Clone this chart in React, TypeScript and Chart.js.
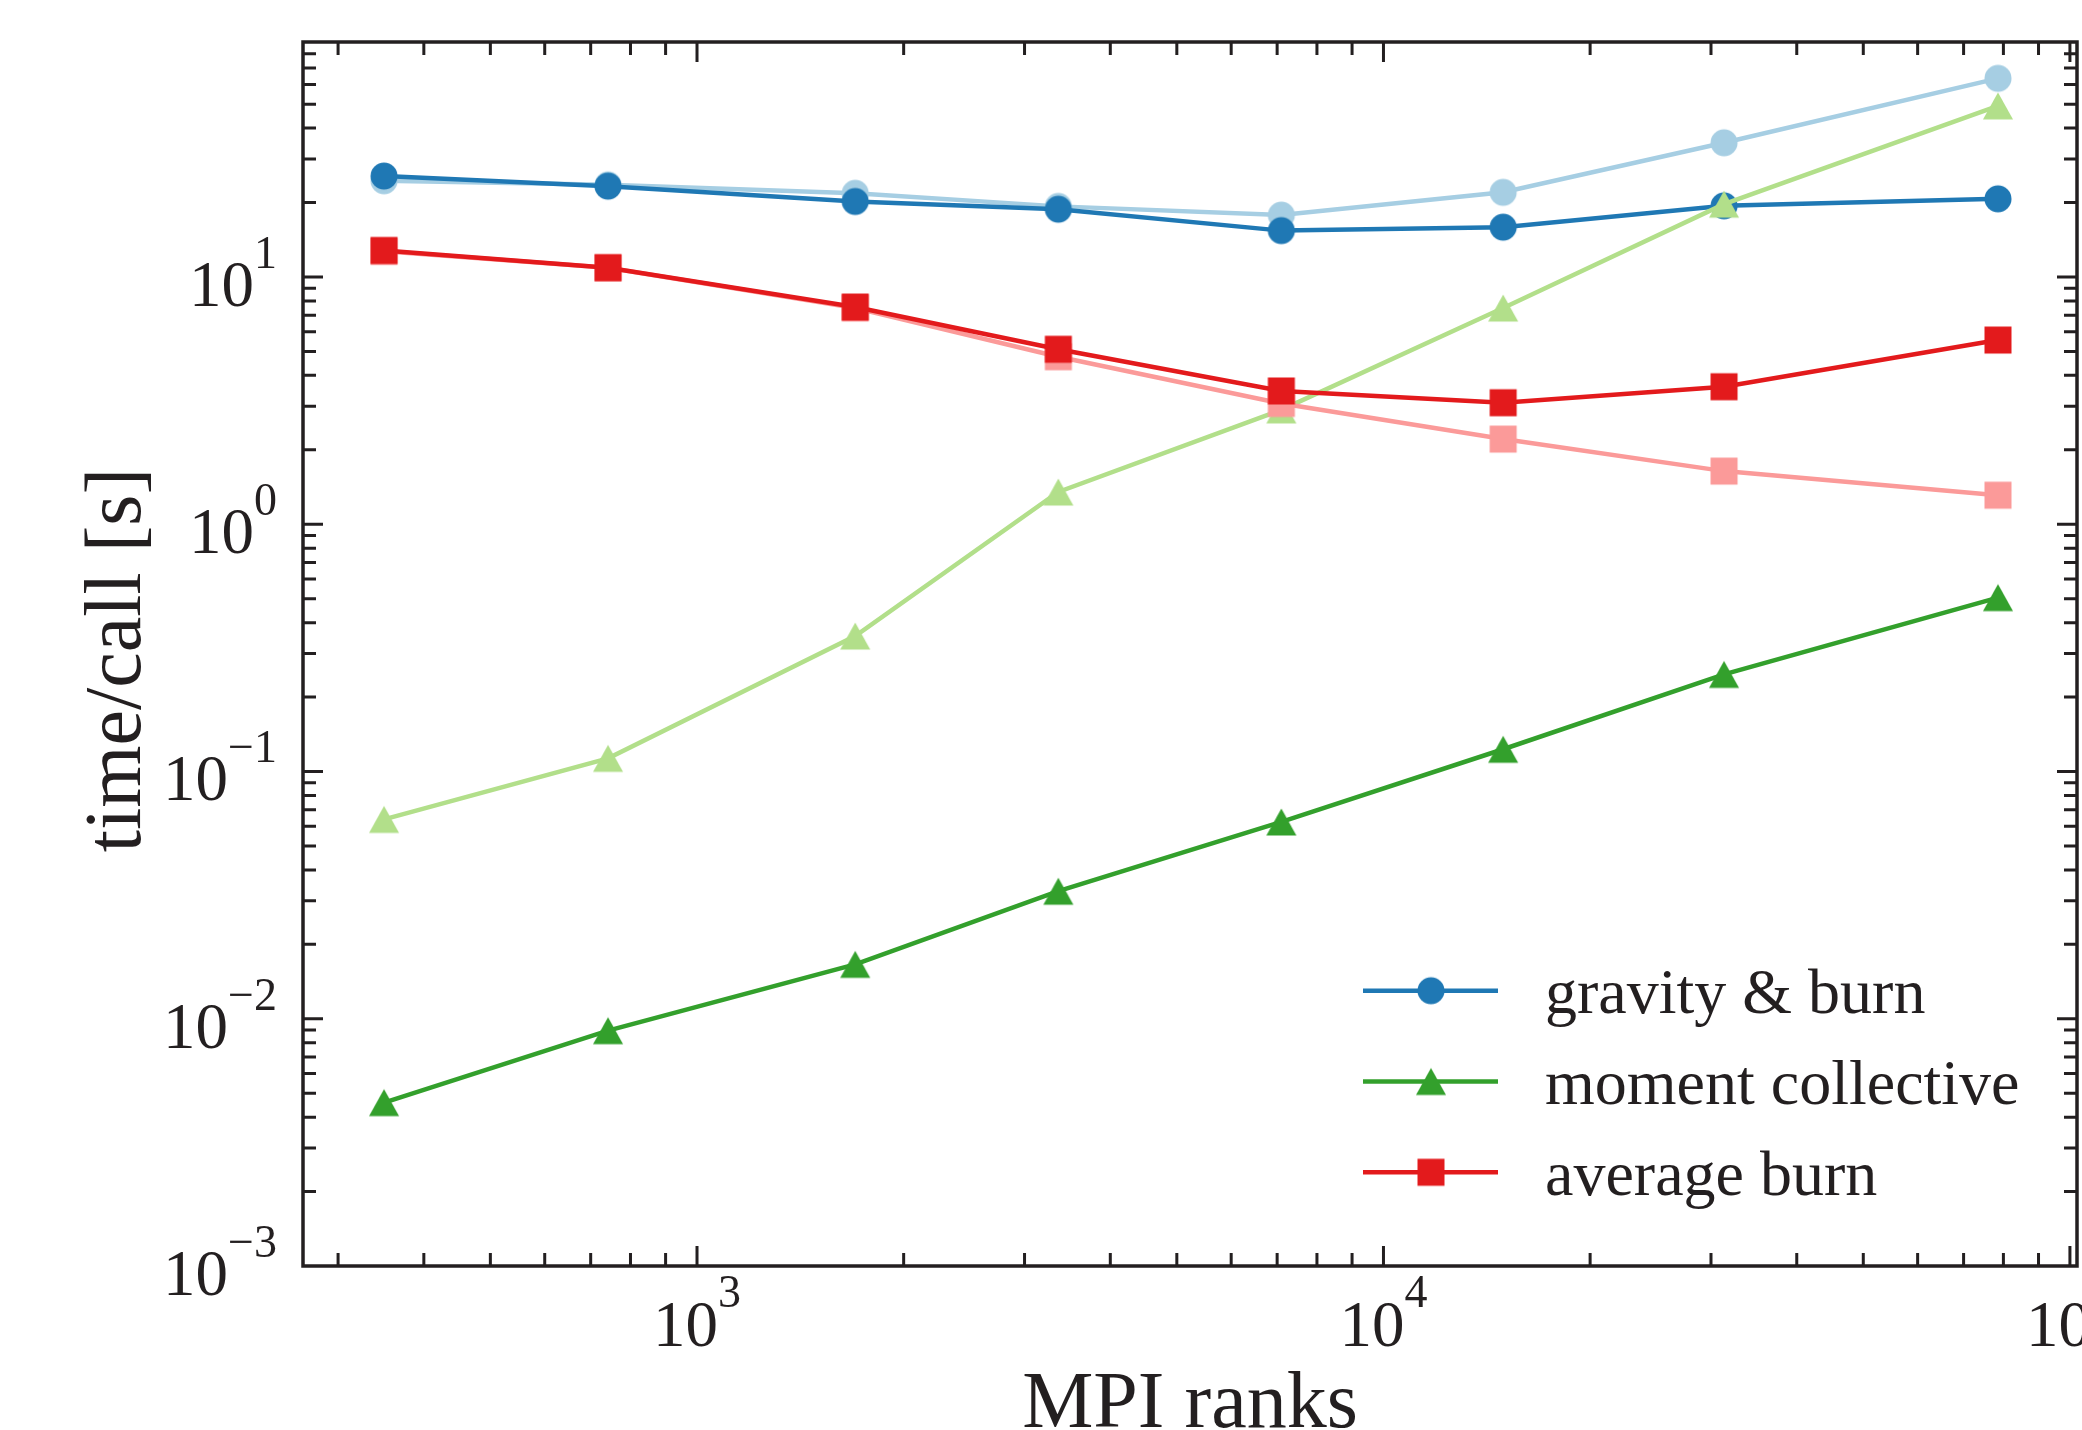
import React, { useEffect, useRef } from 'react';
import { Chart, registerables } from 'chart.js';

Chart.register(...registerables);

// ---------------- data ----------------
const mpiRanks = [350, 742, 1700, 3360, 7100, 14940, 31340, 78560];

const gravityBurn = [25.6, 23.3, 20.2, 18.8, 15.4, 15.9, 19.4, 20.7];
const gravityBurnLight = [24.5, 23.6, 21.8, 19.3, 17.8, 22.0, 34.9, 63.6];

const momentCollective = [0.00458, 0.00895, 0.0166, 0.0328, 0.0625, 0.123, 0.247, 0.505];
const momentCollectiveLight = [0.064, 0.113, 0.353, 1.35, 2.9, 7.49, 19.7, 49.2];

const averageBurn = [12.8, 10.9, 7.56, 5.1, 3.46, 3.1, 3.6, 5.56];
const averageBurnLight = [12.7, 10.9, 7.49, 4.76, 3.08, 2.21, 1.64, 1.31];

const xMajorTicks = [1e3, 1e4, 1e5];
const xTickExponents = ['3', '4', '5'];
const yMajorTicks = [1e-3, 1e-2, 1e-1, 1, 10];
const yTickExponents = ['\u22123', '\u22122', '\u22121', '0', '1'];

const xRange = [266.7, 102400];
const yRange = [1e-3, 89.2];

const xTitle = 'MPI ranks';
const yTitle = 'time/call [s]';
const legendLabels = ['gravity & burn', 'moment collective', 'average burn'];

// ---------------- styles ----------------
const INK = '#231f20';
const SERIF = '"Liberation Serif", "Times New Roman", serif';
const COLORS = {
  darkBlue: '#1f78b4',
  lightBlue: '#a6cee3',
  darkGreen: '#33a02c',
  lightGreen: '#b2df8a',
  red: '#e31a1c',
  pink: '#fb9a99',
};

type Shape = 'circle' | 'triangle' | 'square';

function makeMarker(shape: Shape, color: string): HTMLCanvasElement {
  const c = document.createElement('canvas');
  const ctx = c.getContext('2d')!;
  if (shape === 'circle') {
    c.width = 30; c.height = 30;
    ctx.fillStyle = color;
    ctx.beginPath();
    ctx.arc(15, 15, 13.5, 0, Math.PI * 2);
    ctx.fill();
  } else if (shape === 'square') {
    c.width = 30; c.height = 30;
    ctx.fillStyle = color;
    ctx.fillRect(1.5, 1.5, 27, 27);
  } else {
    c.width = 32; c.height = 30;
    ctx.fillStyle = color;
    ctx.beginPath();
    ctx.moveTo(16, 1.5);
    ctx.lineTo(31, 28.5);
    ctx.lineTo(1, 28.5);
    ctx.closePath();
    ctx.fill();
  }
  return c;
}

function series(label: string, values: number[], color: string, shape: Shape, order: number) {
  return {
    label,
    data: mpiRanks.map((x, i) => ({ x, y: values[i] })),
    borderColor: color,
    backgroundColor: color,
    borderWidth: 4.5,
    pointStyle: makeMarker(shape, color),
    pointRadius: 13,
    pointHoverRadius: 13,
    tension: 0,
    fill: false,
    order,
  };
}

const mplAxesPlugin = {
  id: 'mplAxes',
  afterDraw(chart: any) {
    const { ctx, chartArea } = chart;
    const { left, right, top, bottom } = chartArea;
    const xs = chart.scales.x;
    const ys = chart.scales.y;
    ctx.save();

    // frame
    ctx.strokeStyle = INK;
    ctx.lineWidth = 3.5;
    ctx.strokeRect(left, top, right - left, bottom - top);

    // ticks (inward, on all four sides)
    ctx.lineWidth = 3;
    const majorLen = 20;
    const minorLen = 13;
    const xMin = xs.min, xMax = xs.max;
    for (let e = 2; e <= 5; e++) {
      for (let k = 1; k <= 9; k++) {
        const v = k * Math.pow(10, e);
        if (v < xMin || v > xMax) continue;
        const px = xs.getPixelForValue(v);
        if (px < left + 2 || px > right - 2) continue;
        const len = k === 1 ? majorLen : minorLen;
        ctx.beginPath();
        ctx.moveTo(px, bottom); ctx.lineTo(px, bottom - len);
        ctx.moveTo(px, top); ctx.lineTo(px, top + len);
        ctx.stroke();
      }
    }
    const yMin = ys.min, yMax = ys.max;
    for (let e = -3; e <= 1; e++) {
      for (let k = 1; k <= 9; k++) {
        const v = k * Math.pow(10, e);
        if (v < yMin || v > yMax) continue;
        const py = ys.getPixelForValue(v);
        if (py < top + 2 || py > bottom - 2) continue;
        const len = k === 1 ? majorLen : minorLen;
        ctx.beginPath();
        ctx.moveTo(left, py); ctx.lineTo(left + len, py);
        ctx.moveTo(right, py); ctx.lineTo(right - len, py);
        ctx.stroke();
      }
    }

    // tick labels 10^n
    ctx.fillStyle = INK;
    ctx.textBaseline = 'alphabetic';
    ctx.textAlign = 'left';
    const baseFont = `65px ${SERIF}`;
    const supFont = `46px ${SERIF}`;
    const measure = (t: string, f: string) => { ctx.font = f; return ctx.measureText(t).width; };

    xMajorTicks.forEach((v, i) => {
      const px = xs.getPixelForValue(v);
      const bw = measure('10', baseFont);
      const sw = measure(xTickExponents[i], supFont);
      const start = px - (bw + sw) / 2;
      const base = bottom + 80;
      ctx.font = baseFont; ctx.fillText('10', start, base);
      ctx.font = supFont; ctx.fillText(xTickExponents[i], start + bw, base - 39);
    });

    yMajorTicks.forEach((v, i) => {
      const py = ys.getPixelForValue(v);
      const bw = measure('10', baseFont);
      const sw = measure(yTickExponents[i], supFont);
      const end = left - 26;
      const start = end - bw - sw;
      const base = py + 29;
      ctx.font = baseFont; ctx.fillText('10', start, base);
      ctx.font = supFont; ctx.fillText(yTickExponents[i], start + bw, base - 38);
    });

    // axis titles
    ctx.font = `80px ${SERIF}`;
    ctx.textAlign = 'center';
    ctx.fillText(xTitle, (left + right) / 2, 1427);
    ctx.save();
    ctx.translate(140, 660);
    ctx.rotate(-Math.PI / 2);
    ctx.fillText(yTitle, 0, 0);
    ctx.restore();

    // legend (three main series)
    const legendItems = [
      { label: legendLabels[0], color: COLORS.darkBlue, shape: 'circle' as Shape },
      { label: legendLabels[1], color: COLORS.darkGreen, shape: 'triangle' as Shape },
      { label: legendLabels[2], color: COLORS.red, shape: 'square' as Shape },
    ];
    ctx.textAlign = 'left';
    ctx.font = `64px ${SERIF}`;
    legendItems.forEach((it, i) => {
      const ly = 990.7 + i * 90.8;
      ctx.strokeStyle = it.color;
      ctx.lineWidth = 4.5;
      ctx.beginPath();
      ctx.moveTo(1363, ly);
      ctx.lineTo(1498, ly);
      ctx.stroke();
      const m = makeMarker(it.shape, it.color);
      ctx.drawImage(m, 1431 - m.width / 2, ly - m.height / 2);
      ctx.fillStyle = INK;
      ctx.fillText(it.label, 1545, ly + 22.5);
    });

    ctx.restore();
  },
};

export default function App() {
  const canvasRef = useRef<HTMLCanvasElement | null>(null);

  useEffect(() => {
    const canvas = canvasRef.current;
    if (!canvas) return;
    const chart = new Chart(canvas, {
      type: 'line',
      data: {
        datasets: [
          series(legendLabels[0], gravityBurn, COLORS.darkBlue, 'circle', 4),
          series(legendLabels[0] + ' (light)', gravityBurnLight, COLORS.lightBlue, 'circle', 5),
          series(legendLabels[1], momentCollective, COLORS.darkGreen, 'triangle', 2),
          series(legendLabels[1] + ' (light)', momentCollectiveLight, COLORS.lightGreen, 'triangle', 3),
          series(legendLabels[2], averageBurn, COLORS.red, 'square', 0),
          series(legendLabels[2] + ' (light)', averageBurnLight, COLORS.pink, 'square', 1),
        ] as any,
      },
      options: {
        responsive: false,
        maintainAspectRatio: false,
        devicePixelRatio: 1,
        animation: false,
        layout: { autoPadding: false, padding: { left: 303, top: 42, right: 5, bottom: 164 } },
        scales: {
          x: {
            type: 'logarithmic',
            min: xRange[0],
            max: xRange[1],
            bounds: 'data',
            display: false,
          },
          y: {
            type: 'logarithmic',
            min: yRange[0],
            max: yRange[1],
            bounds: 'data',
            display: false,
          },
        },
        plugins: {
          legend: { display: false },
          tooltip: { enabled: false },
        },
        events: [],
      } as any,
      plugins: [mplAxesPlugin],
    });
    return () => chart.destroy();
  }, []);

  return (
    <div style={{ position: 'absolute', left: 0, top: 0, width: 2082, height: 1430, background: '#ffffff' }}>
      <canvas ref={canvasRef} width={2082} height={1430} style={{ display: 'block', width: 2082, height: 1430 }} />
    </div>
  );
}
